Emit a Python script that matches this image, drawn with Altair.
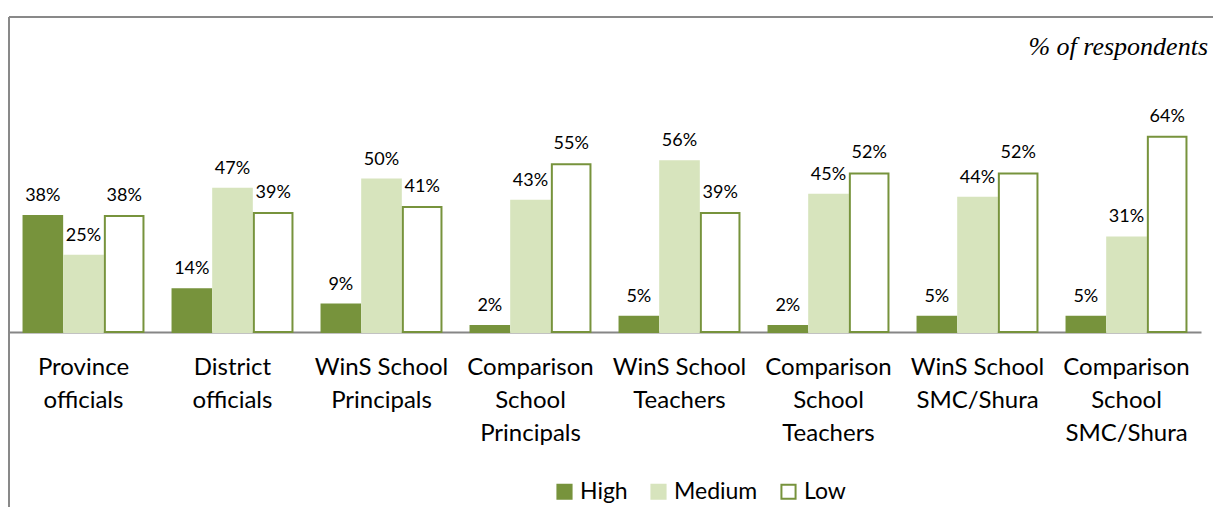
import altair as alt
import pandas as pd

# Respondent groups (label lines separated by "|")
groups = [
    "Province|officials",
    "District|officials",
    "WinS School|Principals",
    "Comparison|School|Principals",
    "WinS School|Teachers",
    "Comparison|School|Teachers",
    "WinS School|SMC/Shura",
    "Comparison|School|SMC/Shura",
]
levels = ["High", "Medium", "Low"]

high = [38, 14, 9, 2, 5, 2, 5, 5]
medium = [25, 47, 50, 43, 56, 45, 44, 31]
low = [38, 39, 41, 55, 39, 52, 52, 64]

fills = ["#77933C", "#D7E4BD", "#FFFFFF"]
strokes = ["#77933C", "#D7E4BD", "#77933C"]

rows = []
for series, name in zip([high, medium, low], levels):
    for g, v in zip(groups, series):
        rows.append({"Group": g, "Level": name, "Value": v, "Label": f"{v}%"})
df = pd.DataFrame(rows)

FONT = "Lato"

x_enc = alt.X(
    "Group:N",
    sort=groups,
    scale=alt.Scale(paddingInner=0.195, paddingOuter=0.0975),
    axis=alt.Axis(
        title=None,
        labelAngle=0,
        ticks=False,
        labelFont=FONT,
        labelFontSize=24,
        labelColor="#000000",
        labelPadding=23,
        labelLineHeight=33,
        labelExpr="split(datum.label, '|')",
        domainColor="#868686",
        domainWidth=2,
    ),
)
xoff = alt.XOffset("Level:N", sort=levels, scale=alt.Scale(paddingInner=0.05))
y_enc = alt.Y("Value:Q", scale=alt.Scale(domain=[0, 100], nice=False), axis=None)

bars = alt.Chart(df).mark_bar(strokeWidth=2).encode(
    x=x_enc,
    xOffset=xoff,
    y=y_enc,
    fill=alt.Fill(
        "Level:N",
        sort=levels,
        scale=alt.Scale(domain=levels, range=fills),
        legend=alt.Legend(
            title=None,
            orient="none",
            direction="horizontal",
            legendX=544,
            legendY=453,
            symbolType="square",
            symbolSize=200,
            symbolStrokeWidth=2,
            symbolOpacity=1,
            labelFont=FONT,
            labelFontSize=23,
            labelColor="#000000",
            columnPadding=19,
            labelOffset=4,
        ),
    ),
    stroke=alt.Stroke(
        "Level:N",
        sort=levels,
        scale=alt.Scale(domain=levels, range=strokes),
    ),
)

labels = alt.Chart(df).mark_text(
    baseline="bottom", dy=-11, font=FONT, fontSize=18, color="#000000"
).encode(
    x=alt.X("Group:N", sort=groups),
    xOffset=alt.XOffset("Level:N", sort=levels),
    y=alt.Y("Value:Q"),
    text="Label:N",
)

# Frame lines along the top and left edges
frame_df = pd.DataFrame({"k": [0]})
left_edge = alt.Chart(frame_df).mark_rule(color="#898989", strokeWidth=2, clip=False).encode(
    x=alt.value(0), y=alt.value(-10), y2=alt.value(480)
)
top_edge = alt.Chart(frame_df).mark_rule(color="#898989", strokeWidth=2, clip=False).encode(
    x=alt.value(0), x2=alt.value(1204), y=alt.value(-10)
)

unit_note = alt.Chart(frame_df).mark_text(
    text="% of respondents",
    font="Liberation Serif",
    fontStyle="italic",
    fontSize=26,
    align="right",
    baseline="middle",
    color="#000000",
).encode(x=alt.value(1199), y=alt.value(20))

chart = (
    alt.layer(left_edge, top_edge, bars, labels, unit_note)
    .properties(
        width=1192,
        height=305,
        background="#FFFFFF",
        autosize=alt.AutoSizeParams(type="none"),
        padding={"left": 9, "top": 27, "right": 12, "bottom": 175},
    )
    .configure_view(strokeWidth=0, stroke="transparent")
)

chart.save("out.html", embed_options={"renderer": "svg", "actions": False})
